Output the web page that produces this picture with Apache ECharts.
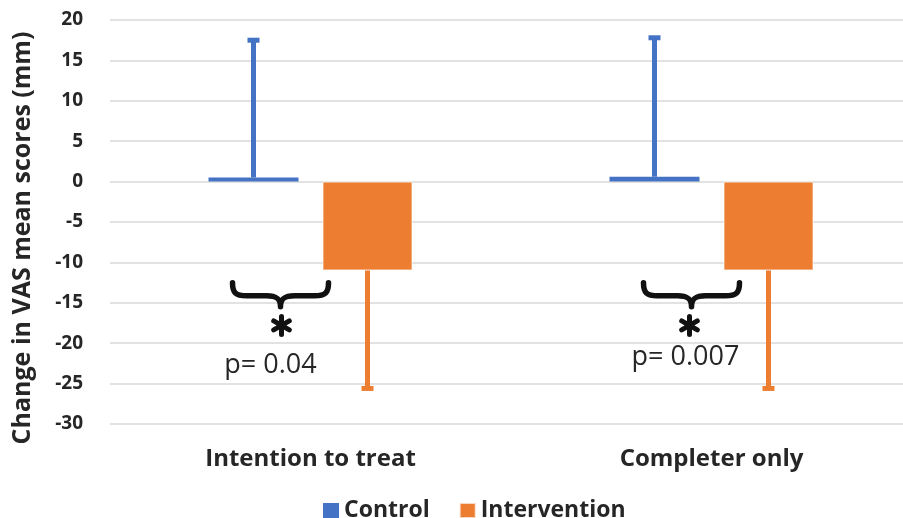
<!DOCTYPE html>
<html>
<head>
<meta charset="utf-8">
<script src="https://cdn.jsdelivr.net/npm/echarts@6/dist/echarts.min.js"></script>
<style>html,body{margin:0;padding:0;background:#fff}#c{width:903px;height:518px}</style>
</head>
<body>
<div id="c"></div>
<script>
// ---- data ----
const categories = ['Intention to treat', 'Completer only'];
const seriesNames = ['Control', 'Intervention'];
const controlMean = [0.5, 0.6];
const controlErr = [17.0, 17.2];      // plus direction
const interventionMean = [-11.0, -11.0];
const interventionErr = [14.6, 14.6]; // minus direction
const yTicks = { min: -30, max: 20, interval: 5 };
const yTitle = 'Change in VAS mean scores (mm)';
const pLabels = ['p= 0.04', 'p= 0.007'];
const braceValue = [-12.2, -12.2];
const starValue = [-17.8, -17.8];
const pValueY = [-22.7, -21.7];

// ---- layout/style ----
const BLUE = '#4472C4', ORANGE = '#ED7D31', TXT = '#262626';
const BAR_W = 90, BAR_GAP = 24;
const OFFS = (BAR_W + BAR_GAP) / 2;
const braceDx = [-30, -20], starDx = [-29, -22], pDx = [-40, -26];
const FONT = "'Open Sans', sans-serif";

const chart = echarts.init(document.getElementById('c'), null, { renderer: 'canvas' });

function errRender(sign, offset) {
  return function (params, api) {
    const cat = api.value(0), m = api.value(1), e = api.value(2);
    const a = api.coord([cat, m]);
    const b = api.coord([cat, m + sign * e]);
    const x = a[0] + offset;
    const color = api.visual('color');
    const y1 = Math.min(a[1], b[1]), y2 = Math.max(a[1], b[1]);
    return {
      type: 'group',
      children: [
        { type: 'rect', shape: { x: x - 2.5, y: y1, width: 5, height: y2 - y1 }, style: { fill: color } },
        { type: 'rect', shape: { x: x - 6, y: b[1] - 2.5, width: 12, height: 5 }, style: { fill: color } }
      ]
    };
  };
}

function annRender(params, api) {
  const i = api.value(0);
  const bp = api.coord([i, braceValue[i]]);
  const cx = bp[0] + braceDx[i], y0 = bp[1] + 2.5;
  const x0 = cx - 48, x1 = cx + 48, ym = y0 + 13, yb = y0 + 24;
  const d = `M${x0} ${y0} C${x0} ${ym - 3} ${x0 + 3} ${ym} ${x0 + 14} ${ym} L${cx - 14} ${ym} C${cx - 4} ${ym} ${cx} ${ym + 3} ${cx} ${yb} ` +
            `M${x1} ${y0} C${x1} ${ym - 3} ${x1 - 3} ${ym} ${x1 - 14} ${ym} L${cx + 14} ${ym} C${cx + 4} ${ym} ${cx} ${ym + 3} ${cx} ${yb}`;
  const sp = api.coord([i, starValue[i]]);
  const sx = sp[0] + starDx[i], sy = sp[1], R = 9;
  let sd = '';
  for (let k = 0; k < 3; k++) {
    const ang = Math.PI / 2 + k * Math.PI / 3;
    const dx = R * Math.cos(ang), dy = R * Math.sin(ang);
    sd += `M${sx - dx} ${sy - dy} L${sx + dx} ${sy + dy} `;
  }
  const pp = api.coord([i, pValueY[i]]);
  return {
    type: 'group',
    children: [
      { type: 'path', shape: { pathData: d }, style: { fill: null, stroke: '#111', lineWidth: 5.5, lineCap: 'round', lineJoin: 'round' } },
      { type: 'path', shape: { pathData: sd }, style: { fill: null, stroke: '#111', lineWidth: 5, lineCap: 'round' } },
      { type: 'text', x: pp[0] + pDx[i], y: pp[1],
        style: { text: pLabels[i], font: "27px 'Open Sans', sans-serif", fill: TXT, align: 'center', verticalAlign: 'middle' } }
    ]
  };
}

chart.setOption({
  animation: false,
  backgroundColor: '#fff',
  color: [BLUE, ORANGE],
  grid: { left: 110, top: 20, width: 802, height: 404, containLabel: false, outerBoundsMode: 'none' },
  legend: {
    data: seriesNames,
    left: 318, top: 494,
    itemWidth: 16, itemHeight: 15, itemGap: 29,
    icon: 'rect',
    textStyle: { fontFamily: FONT, fontWeight: 'bold', fontSize: 23, color: TXT }
  },
  xAxis: {
    type: 'category',
    data: categories,
    axisLine: { show: false },
    axisTick: { show: false },
    axisLabel: { margin: 23, fontFamily: FONT, fontWeight: 'bold', fontSize: 24, color: TXT }
  },
  yAxis: {
    type: 'value',
    min: yTicks.min, max: yTicks.max, interval: yTicks.interval,
    axisLine: { show: false },
    axisTick: { show: false },
    splitLine: { lineStyle: { color: '#d9d9d9', width: 1.5 } },
    axisLabel: { margin: 27, fontFamily: FONT, fontWeight: 'bold', fontSize: 19, color: TXT }
  },
  graphic: [{
    type: 'text', x: 23, y: 238, rotation: Math.PI / 2,
    style: { text: yTitle, font: "bold 25px 'Open Sans', sans-serif", fill: TXT, align: 'center', verticalAlign: 'middle' }
  }],
  series: [
    { name: seriesNames[0], type: 'bar', data: controlMean, barWidth: BAR_W, barGap: (BAR_GAP / BAR_W * 100) + '%',
      itemStyle: { color: BLUE } },
    { name: seriesNames[1], type: 'bar', data: interventionMean, barWidth: BAR_W,
      itemStyle: { color: ORANGE, borderColor: 'rgba(255,255,255,0.7)', borderWidth: 1 } },
    { name: seriesNames[0], type: 'custom', renderItem: errRender(1, -OFFS), itemStyle: { color: BLUE },
      data: controlMean.map((m, i) => [i, m, controlErr[i]]), z: 3 },
    { name: seriesNames[1], type: 'custom', renderItem: errRender(-1, OFFS), itemStyle: { color: ORANGE },
      data: interventionMean.map((m, i) => [i, m, interventionErr[i]]), z: 3 },
    { name: 'annotations', type: 'custom', renderItem: annRender, silent: true, z: 4,
      data: categories.map((c, i) => [i, braceValue[i]]) }
  ]
});
</script>
</body>
</html>
